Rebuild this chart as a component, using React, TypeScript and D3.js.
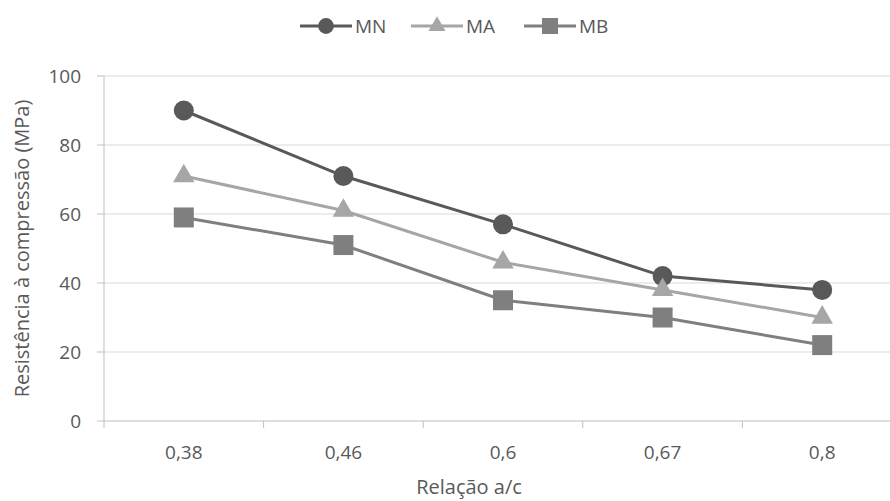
import React from 'react';
import * as d3 from 'd3';

const categories = ['0,38', '0,46', '0,6', '0,67', '0,8'];
const mn = [90, 71, 57, 42, 38];
const ma = [71, 61, 46, 38, 30];
const mb = [59, 51, 35, 30, 22];
const yTicks = [0, 20, 40, 60, 80, 100];

const series = [
  { name: 'MN', values: mn, color: '#595959', shape: 'circle' },
  { name: 'MA', values: ma, color: '#a6a6a6', shape: 'triangle' },
  { name: 'MB', values: mb, color: '#7f7f7f', shape: 'square' },
];

const font = '"Open Sans", Lato, sans-serif';

const Marker = ({ shape, x, y, color, size }: any) => {
  const sym = shape === 'circle' ? d3.symbolCircle : shape === 'triangle' ? d3.symbolTriangle : d3.symbolSquare;
  const d = d3.symbol().type(sym).size(size)();
  return <path d={d as string} transform={`translate(${x},${y})`} fill={color} />;
};

// marker areas for plot and legend
const plotSize: any = { circle: 314, triangle: 200, square: 400 };
const legendSize: any = { circle: 195, triangle: 125, square: 256 };

export default function App() {
  const W = 890;
  const H = 501;
  const left = 104;
  const right = 902;
  const top = 76;
  const bottom = 421;

  const x = d3.scaleBand().domain(categories).range([left, right]);
  const y = d3.scaleLinear().domain([0, 100]).range([bottom, top]);

  const line = d3
    .line<number>()
    .x((_, i) => (x(categories[i]) as number) + x.bandwidth() / 2)
    .y((d) => y(d));

  const boundaries = categories.map((c) => x(c) as number).concat([right]);
  const legendX = [300, 411, 524];

  return (
    <svg width={W} height={H} style={{ position: 'absolute', left: 0, top: 0 }}>
      <rect width={W} height={H} fill="#fff" />
      {yTicks.slice(1).map((t) => (
        <line key={t} x1={left} x2={right} y1={y(t)} y2={y(t)} stroke="#d9d9d9" strokeWidth={1} />
      ))}
      <line x1={left} x2={left} y1={top} y2={bottom} stroke="#bfbfbf" />
      <line x1={left - 7} x2={right} y1={bottom} y2={bottom} stroke="#bfbfbf" />
      {yTicks.slice(1).map((t) => (
        <line key={'t' + t} x1={left - 7} x2={left} y1={y(t)} y2={y(t)} stroke="#bfbfbf" />
      ))}
      {boundaries.map((b, i) => (
        <line key={'b' + i} x1={b} x2={b} y1={bottom} y2={bottom + 7} stroke="#bfbfbf" />
      ))}
      {yTicks.map((t) => (
        <text key={'l' + t} x={81} y={y(t)} dy="0.35em" textAnchor="end" fontSize={19} fill="#595959" fontFamily={font}>
          {t}
        </text>
      ))}
      {categories.map((c) => (
        <text key={c} x={(x(c) as number) + x.bandwidth() / 2} y={bottom + 31} dy="0.35em" textAnchor="middle" fontSize={19} fill="#595959" fontFamily={font}>
          {c}
        </text>
      ))}
      <text x={469} y={487} dy="0.35em" textAnchor="middle" fontSize={20} fill="#595959" fontFamily={font}>
        Relação a/c
      </text>
      <text transform={`translate(22,${(top + bottom) / 2}) rotate(-90)`} dy="0.35em" textAnchor="middle" fontSize={20} fill="#595959" fontFamily={font}>
        Resistência à compressão (MPa)
      </text>
      {series.map((s) => (
        <g key={s.name}>
          <path d={line(s.values) as string} fill="none" stroke={s.color} strokeWidth={3} />
          {s.values.map((v, i) => (
            <Marker key={i} shape={s.shape} x={(x(categories[i]) as number) + x.bandwidth() / 2} y={y(v)} color={s.color} size={plotSize[s.shape]} />
          ))}
        </g>
      ))}
      {series.map((s, i) => (
        <g key={'lg' + s.name}>
          <line x1={legendX[i]} x2={legendX[i] + 52} y1={26} y2={26} stroke={s.color} strokeWidth={3} />
          <Marker shape={s.shape} x={legendX[i] + 26} y={26} color={s.color} size={legendSize[s.shape]} />
          <text x={legendX[i] + 55} y={26} dy="0.35em" fontSize={19} fill="#595959" fontFamily={font}>
            {s.name}
          </text>
        </g>
      ))}
    </svg>
  );
}
